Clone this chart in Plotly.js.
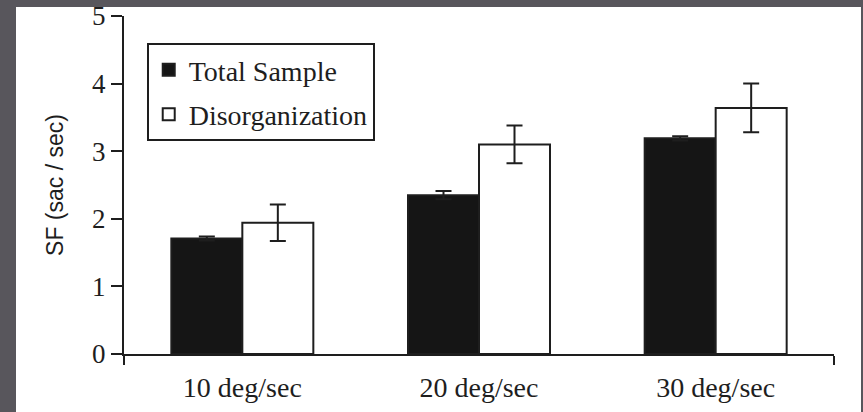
<!DOCTYPE html>
<html>
<head>
<meta charset="utf-8">
<script src="https://cdn.plot.ly/plotly-3.0.1.min.js"></script>
<style>
  html, body { margin: 0; padding: 0; width: 863px; height: 412px; overflow: hidden; background: #58565c; }
  #chart { position: absolute; left: 16px; top: 0; width: 845px; height: 412px; background: #ffffff; }
  #frame-top { position: absolute; left: 0; top: 0; width: 863px; height: 7px; background: #58565c; z-index: 5; }
</style>
</head>
<body>
<div id="chart"></div>
<div id="frame-top"></div>
<script>
// Saccade frequency by target speed
const speeds = ['10 deg/sec', '20 deg/sec', '30 deg/sec'];
const totalSample = [1.71, 2.35, 3.19];
const totalSampleErr = [0.03, 0.06, 0.03];
const disorganization = [1.94, 3.10, 3.64];
const disorganizationErr = [0.27, 0.28, 0.36];
const yTicks = [0, 1, 2, 3, 4, 5];

const ink = '#1e1e1e';
const serif = 'Liberation Serif, Times New Roman, serif';

const traces = [
  {
    type: 'bar',
    name: 'Total Sample',
    x: speeds,
    y: totalSample,
    legendgroup: 'a',
    marker: { color: '#151515', line: { color: ink, width: 2 } },
    error_y: { type: 'data', array: totalSampleErr, visible: true, color: ink, thickness: 2, width: 8 }
  },
  {
    type: 'bar',
    name: 'Disorganization',
    x: speeds,
    y: disorganization,
    legendgroup: 'b',
    marker: { color: '#ffffff', line: { color: ink, width: 2 } },
    error_y: { type: 'data', array: disorganizationErr, visible: true, color: ink, thickness: 2, width: 8 }
  },
  {
    // carries the baseline axis with its end ticks
    type: 'scatter',
    x: [], y: [],
    xaxis: 'x2',
    showlegend: false,
    hoverinfo: 'skip'
  }
];

const layout = {
  width: 845,
  height: 412,
  margin: { l: 108, r: 27, t: 16, b: 58 },
  paper_bgcolor: '#ffffff',
  plot_bgcolor: '#ffffff',
  barmode: 'group',
  bargap: 0.4,
  bargroupgap: 0,
  showlegend: true,
  legend: {
    x: 0.032, y: 0.92, xanchor: 'left', yanchor: 'top',
    bgcolor: '#ffffff',
    bordercolor: ink, borderwidth: 2,
    font: { family: serif, size: 28, color: ink },
    traceorder: 'grouped',
    tracegroupgap: 5
  },
  xaxis: {
    type: 'category',
    range: [-0.5, 2.5],
    showline: false,
    showgrid: false,
    zeroline: false,
    ticks: '',
    ticklabelstandoff: 14,
    tickfont: { family: serif, size: 28, color: ink },
    fixedrange: true
  },
  xaxis2: {
    overlaying: 'x',
    anchor: 'y',
    range: [-0.5, 2.5],
    tickvals: [-0.5, 2.5],
    showticklabels: false,
    ticks: 'outside',
    ticklen: 9,
    tickwidth: 2,
    tickcolor: ink,
    showline: true,
    linecolor: ink,
    linewidth: 2,
    showgrid: false,
    zeroline: false
  },
  yaxis: {
    range: [0, 5],
    tickvals: yTicks,
    ticks: 'outside',
    ticklen: 11,
    tickwidth: 2,
    tickcolor: ink,
    showline: true,
    linecolor: ink,
    linewidth: 2,
    showgrid: false,
    zeroline: false,
    tickfont: { family: serif, size: 27, color: ink },
    title: {
      text: 'SF (sac / sec)',
      font: { family: 'Liberation Sans, Arial, sans-serif', size: 23, color: ink },
      standoff: 22
    }
  }
};

Plotly.newPlot('chart', traces, layout, { displayModeBar: false, staticPlot: true });
</script>
</body>
</html>
